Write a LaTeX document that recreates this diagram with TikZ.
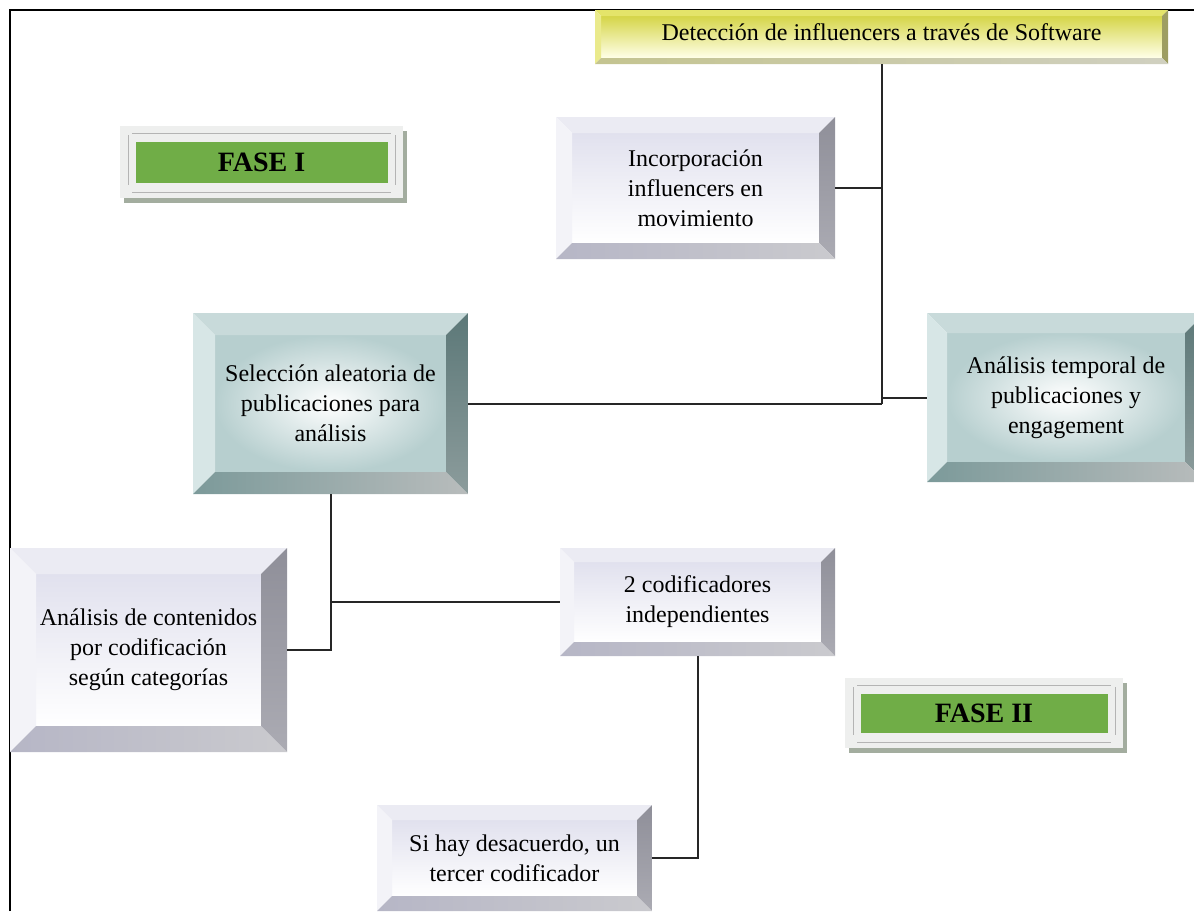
\documentclass[tikz,border=0pt]{standalone}
\usepackage{fontspec}
\setmainfont{Liberation Serif}
\usetikzlibrary{shadows}

\definecolor{lavface}{HTML}{E1E1EE}
\definecolor{lavtop}{HTML}{EBEBF3}
\definecolor{lavleft}{HTML}{F3F3F8}
\definecolor{lavrightA}{HTML}{8F8F99}
\definecolor{lavrightB}{HTML}{ABABB3}
\definecolor{lavbotA}{HTML}{B6B6C6}
\definecolor{lavbotB}{HTML}{CACACE}
\definecolor{tealface}{HTML}{A5C3C3}
\definecolor{tealtop}{HTML}{C8DADA}
\definecolor{tealleft}{HTML}{D7E6E6}
\definecolor{tealrightA}{HTML}{5C7878}
\definecolor{tealrightB}{HTML}{8C9C9C}
\definecolor{tealbotA}{HTML}{7C9A9A}
\definecolor{tealbotB}{HTML}{B8BCBC}
\definecolor{yelfaceA}{HTML}{D5D548}
\definecolor{yelfaceB}{HTML}{FFFFE8}
\definecolor{yeltop}{HTML}{E4E46A}
\definecolor{yelleft}{HTML}{EAEA8C}
\definecolor{yelright}{HTML}{9E9E62}
\definecolor{yelbotA}{HTML}{C4C490}
\definecolor{yelbotB}{HTML}{D0D0C0}
\definecolor{fasebg}{HTML}{EEEFEE}
\definecolor{faseline}{HTML}{B4B4B4}
\definecolor{fasegreen}{HTML}{70AD47}
\definecolor{faseshadow}{HTML}{A3AD9F}

\begin{document}
\begin{tikzpicture}[x=1pt, y=-1pt,
        boxtext/.style={font=\fontsize{24}{30}\selectfont, align=center},
        lav face/.style={top color=lavface, bottom color=white},
        lav top/.style={fill=lavtop},
        lav left/.style={fill=lavleft},
        lav right/.style={top color=lavrightA, bottom color=lavrightB},
        lav bottom/.style={left color=lavbotA, right color=lavbotB},
        teal face/.style={inner color=white, outer color=tealface!80!white},
        teal top/.style={fill=tealtop},
        teal left/.style={fill=tealleft},
        teal right/.style={top color=tealrightA, bottom color=tealrightB},
        teal bottom/.style={left color=tealbotA, right color=tealbotB},
        yel face/.style={top color=yelfaceA, bottom color=yelfaceB},
        yel top/.style={fill=yeltop},
        yel left/.style={fill=yelleft},
        yel right/.style={fill=yelright},
        yel bottom/.style={left color=yelbotA, right color=yelbotB},
        bevelbox/.style 2 args={rectangle, fill=white, inner sep=0pt, boxtext,
            path picture={
                \coordinate (oNW) at (path picture bounding box.north west);
                \coordinate (oNE) at (path picture bounding box.north east);
                \coordinate (oSW) at (path picture bounding box.south west);
                \coordinate (oSE) at (path picture bounding box.south east);
                \coordinate (iNW) at ([shift={(#1,-#1)}]oNW);
                \coordinate (iNE) at ([shift={(-#1,-#1)}]oNE);
                \coordinate (iSW) at ([shift={(#1,#1)}]oSW);
                \coordinate (iSE) at ([shift={(-#1,#1)}]oSE);
                \path[#2 face] (iNW) rectangle (iSE);
                \path[#2 top] (oNW) -- (oNE) -- (iNE) -- (iNW) -- cycle;
                \path[#2 left] (oNW) -- (iNW) -- (iSW) -- (oSW) -- cycle;
                \path[#2 right] (oNE) -- (oSE) -- (iSE) -- (iNE) -- cycle;
                \path[#2 bottom] (oSW) -- (iSW) -- (iSE) -- (oSE) -- cycle;
            }},
        fase/.style={rectangle, fill=fasebg, inner sep=0pt,
            font=\fontsize{28}{30}\selectfont\bfseries,
            drop shadow={shadow xshift=4pt, shadow yshift=-5pt, fill=faseshadow, opacity=1},
            path picture={
                \coordinate (fNW) at (path picture bounding box.north west);
                \coordinate (fNE) at (path picture bounding box.north east);
                \coordinate (fSW) at (path picture bounding box.south west);
                \coordinate (fSE) at (path picture bounding box.south east);
                \draw[faseline, line width=0.8pt] ([shift={(12pt,-7pt)}]fNW) -- ([shift={(-12pt,-7pt)}]fNE);
                \draw[faseline, line width=0.8pt] ([shift={(12pt,6pt)}]fSW) -- ([shift={(-12pt,6pt)}]fSE);
                \draw[faseline, line width=0.8pt] ([shift={(8pt,-9pt)}]fNW) -- ([shift={(8pt,13pt)}]fSW);
                \draw[faseline, line width=0.8pt] ([shift={(-8pt,-9pt)}]fNE) -- ([shift={(-8pt,13pt)}]fSE);
                \path[fill=fasegreen] ([shift={(16pt,-16pt)}]fNW) rectangle ([shift={(-15pt,15pt)}]fSE);
            }},
        link/.style={draw=black!85, line width=2pt}
    ]
    \useasboundingbox (0,0) rectangle (1194,911);
    \clip (0,0) rectangle (1194,911);

    % frame
    \draw[line width=1.8pt] (10,911) -- (10,10) -- (1194,10);

    \node[bevelbox={6pt}{yel}, minimum width=573pt, minimum height=54pt] (soft) at (881.5,37) {\raisebox{10pt}{Detección de influencers a través de Software}};
    \node[bevelbox={16pt}{lav}, minimum width=279pt, minimum height=142pt] (incorp) at (695.5,188) {Incorporación\\influencers en\\movimiento};
    \node[bevelbox={22pt}{teal}, minimum width=275pt, minimum height=181pt] (selec) at (330.5,403.5) {Selección aleatoria de\\publicaciones para\\análisis};
    \node[bevelbox={20pt}{teal}, minimum width=278pt, minimum height=169pt] (tempo) at (1066,397.5) {Análisis temporal de\\publicaciones y\\engagement};
    \node[bevelbox={26pt}{lav}, minimum width=277pt, minimum height=204pt] (conten) at (148.5,650) {Análisis de contenidos\\por codificación\\según categorías};
    \node[bevelbox={14pt}{lav}, minimum width=275pt, minimum height=108pt] (codif) at (697.5,602) {2 codificadores\\independientes};
    \node[bevelbox={15pt}{lav}, minimum width=275pt, minimum height=106pt] (tercer) at (514.5,858) {Si hay desacuerdo, un\\tercer codificador};

    \node[fase, minimum width=283pt, minimum height=72pt] (fase1) at (261.5,162) {FASE I};
    \node[fase, minimum width=278pt, minimum height=70pt] (fase2) at (984,713) {FASE II};

    \draw[link] (soft.south) -- (soft.south |- selec.east);
    \draw[link] (selec.east) -- (soft.south |- selec.east);
    \draw[link] (incorp.east) -- (incorp.east -| soft.south);
    \draw[link] (tempo.west) -- (tempo.west -| soft.south);
    \draw[link] (selec.south) |- (conten.east);
    \draw[link] (codif.west) -- (codif.west -| selec.south);
    \draw[link] (codif.south) |- (tercer.east);
\end{tikzpicture}
\end{document}
